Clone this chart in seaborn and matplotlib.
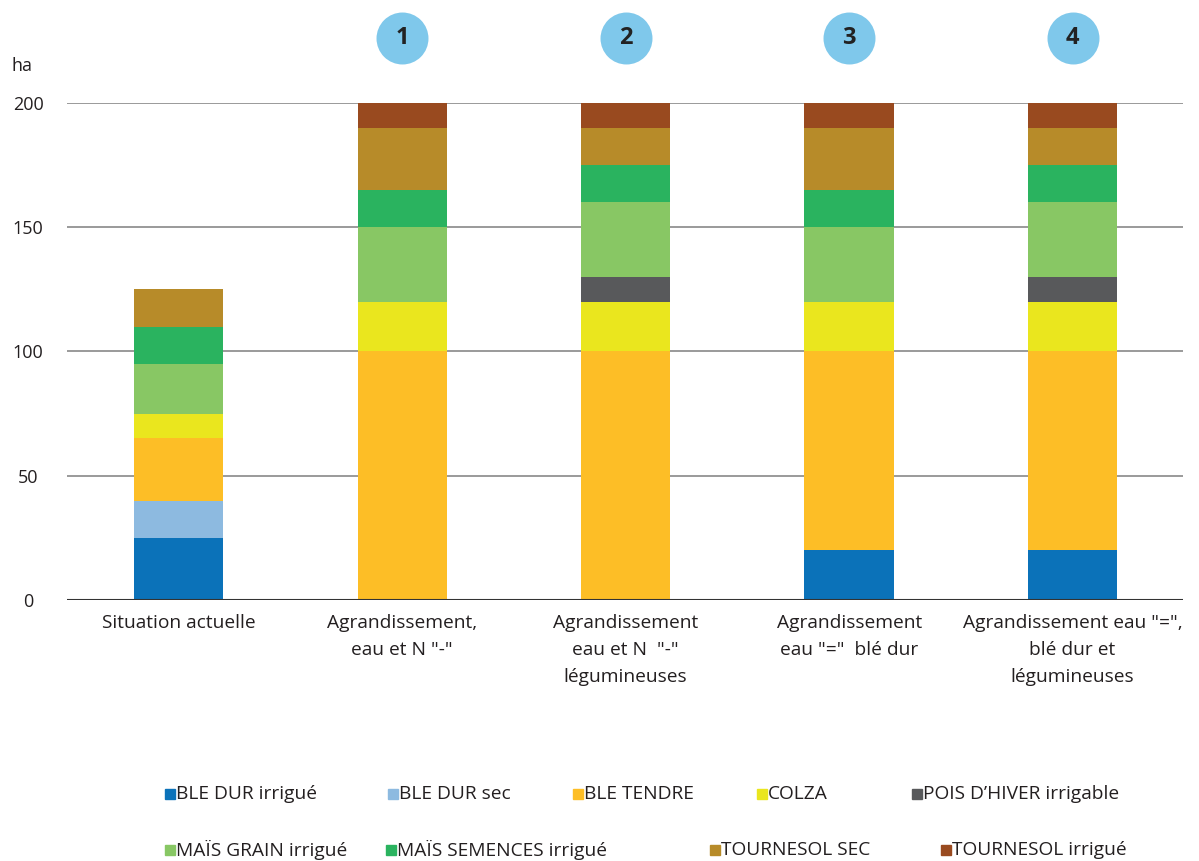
import numpy as np
import pandas as pd
import matplotlib
matplotlib.use("Agg")
import matplotlib.pyplot as plt
import seaborn as sns
from matplotlib.patches import Rectangle

# ---------------- data ----------------
scenarios = ["Situation actuelle",
             "Agrandissement,\neau et N \"-\"",
             "Agrandissement\neau et N  \"-\"\nlégumineuses",
             "Agrandissement\neau \"=\"  blé dur",
             "Agrandissement eau \"=\",\nblé dur et\nlégumineuses"]
badges = ["", "1", "2", "3", "4"]

crops = ["BLE DUR irrigué", "BLE DUR sec", "BLE TENDRE", "COLZA",
         "POIS D\u2019HIVER irrigable", "MAÏS GRAIN irrigué",
         "MAÏS SEMENCES irrigué", "TOURNESOL SEC", "TOURNESOL irrigué"]

ble_dur_irrigue = [25, 0, 0, 20, 20]
ble_dur_sec = [15, 0, 0, 0, 0]
ble_tendre = [25, 100, 100, 80, 80]
colza = [10, 20, 20, 20, 20]
pois_hiver = [0, 0, 10, 0, 10]
mais_grain = [20, 30, 30, 30, 30]
mais_semences = [15, 15, 15, 15, 15]
tournesol_sec = [15, 25, 15, 25, 15]
tournesol_irrigue = [0, 10, 10, 10, 10]

yticks = [0, 50, 100, 150, 200]

colors = ["#0B72B9", "#8DBAE0", "#FDBE26", "#EAE61E", "#58595B",
          "#88C764", "#2AB35F", "#B78B29", "#994A1F"]

series = [ble_dur_irrigue, ble_dur_sec, ble_tendre, colza, pois_hiver,
          mais_grain, mais_semences, tournesol_sec, tournesol_irrigue]

# ---------------- figure ----------------
sns.set_style("white")
plt.rcParams["font.family"] = ["Open Sans", "DejaVu Sans"]
TXT = "#231F20"
FS = 13.8

W, H = 1199.0, 861.0
fig = plt.figure(figsize=(W / 100, H / 100), dpi=100)
ax = fig.add_axes([67 / W, (H - 600) / H, (1183 - 67) / W, (600 - 103) / H])

cum = np.cumsum(np.array(series, dtype=float), axis=0)
xpos = list(range(len(scenarios)))
# draw cumulative stacks from top to bottom so lower segments overlay
for i in range(len(crops) - 1, -1, -1):
    df = pd.DataFrame({"x": xpos, "y": cum[i]})
    sns.barplot(data=df, x="x", y="y", color=colors[i], width=0.4,
                saturation=1, linewidth=0, ax=ax, zorder=2, order=xpos)

ax.set_ylim(0, 200)
ax.set_xlim(-0.5, 4.494)
ax.set_yticks(yticks)
ax.set_yticklabels([str(v) for v in yticks], fontsize=13, color=TXT)
ax.set_xticks(xpos)
ax.set_xticklabels(scenarios, fontsize=FS, color=TXT, linespacing=1.65)
ax.set_xlabel("")
ax.set_ylabel("")
ax.tick_params(axis="both", length=0)
ax.tick_params(axis="y", pad=28)
ax.tick_params(axis="x", pad=10)
for lab in ax.get_yticklabels():
    lab.set_horizontalalignment("center")
for s in ax.spines.values():
    s.set_visible(False)
for v in yticks[1:]:
    ax.axhline(v, color="#7F7F7F", lw=1.1, zorder=1)
ax.axhline(0, color="#333333", lw=1.5, zorder=3)

fig.text(22 / W, (H - 66) / H, "ha", fontsize=13, color=TXT,
         ha="center", va="center")

# badges above scenarios
for x, b in zip(xpos, badges):
    if b:
        ax.scatter([x], [226], s=1400, color="#7FC8EB", clip_on=False,
                   zorder=5, linewidths=0)
        ax.text(x, 226, b, ha="center", va="center", fontsize=17,
                fontweight="bold", color="#222222", zorder=6, clip_on=False)

# legend (two rows, manual layout)
leg_x_px = [165, 388, 573, 757, 912, 165, 386, 710, 941]
leg_y_px = [794] * 5 + [850] * 4
sq = 10
for name, col, xp, yp in zip(crops, colors, leg_x_px, leg_y_px):
    fig.patches.append(Rectangle((xp / W, (H - yp - sq / 2) / H), sq / W, sq / H,
                                 transform=fig.transFigure, color=col,
                                 figure=fig))
    fig.text((xp + sq + 1) / W, (H - yp) / H, name, fontsize=FS, color=TXT,
             ha="left", va="center")

fig.savefig("out.png", dpi=100)
